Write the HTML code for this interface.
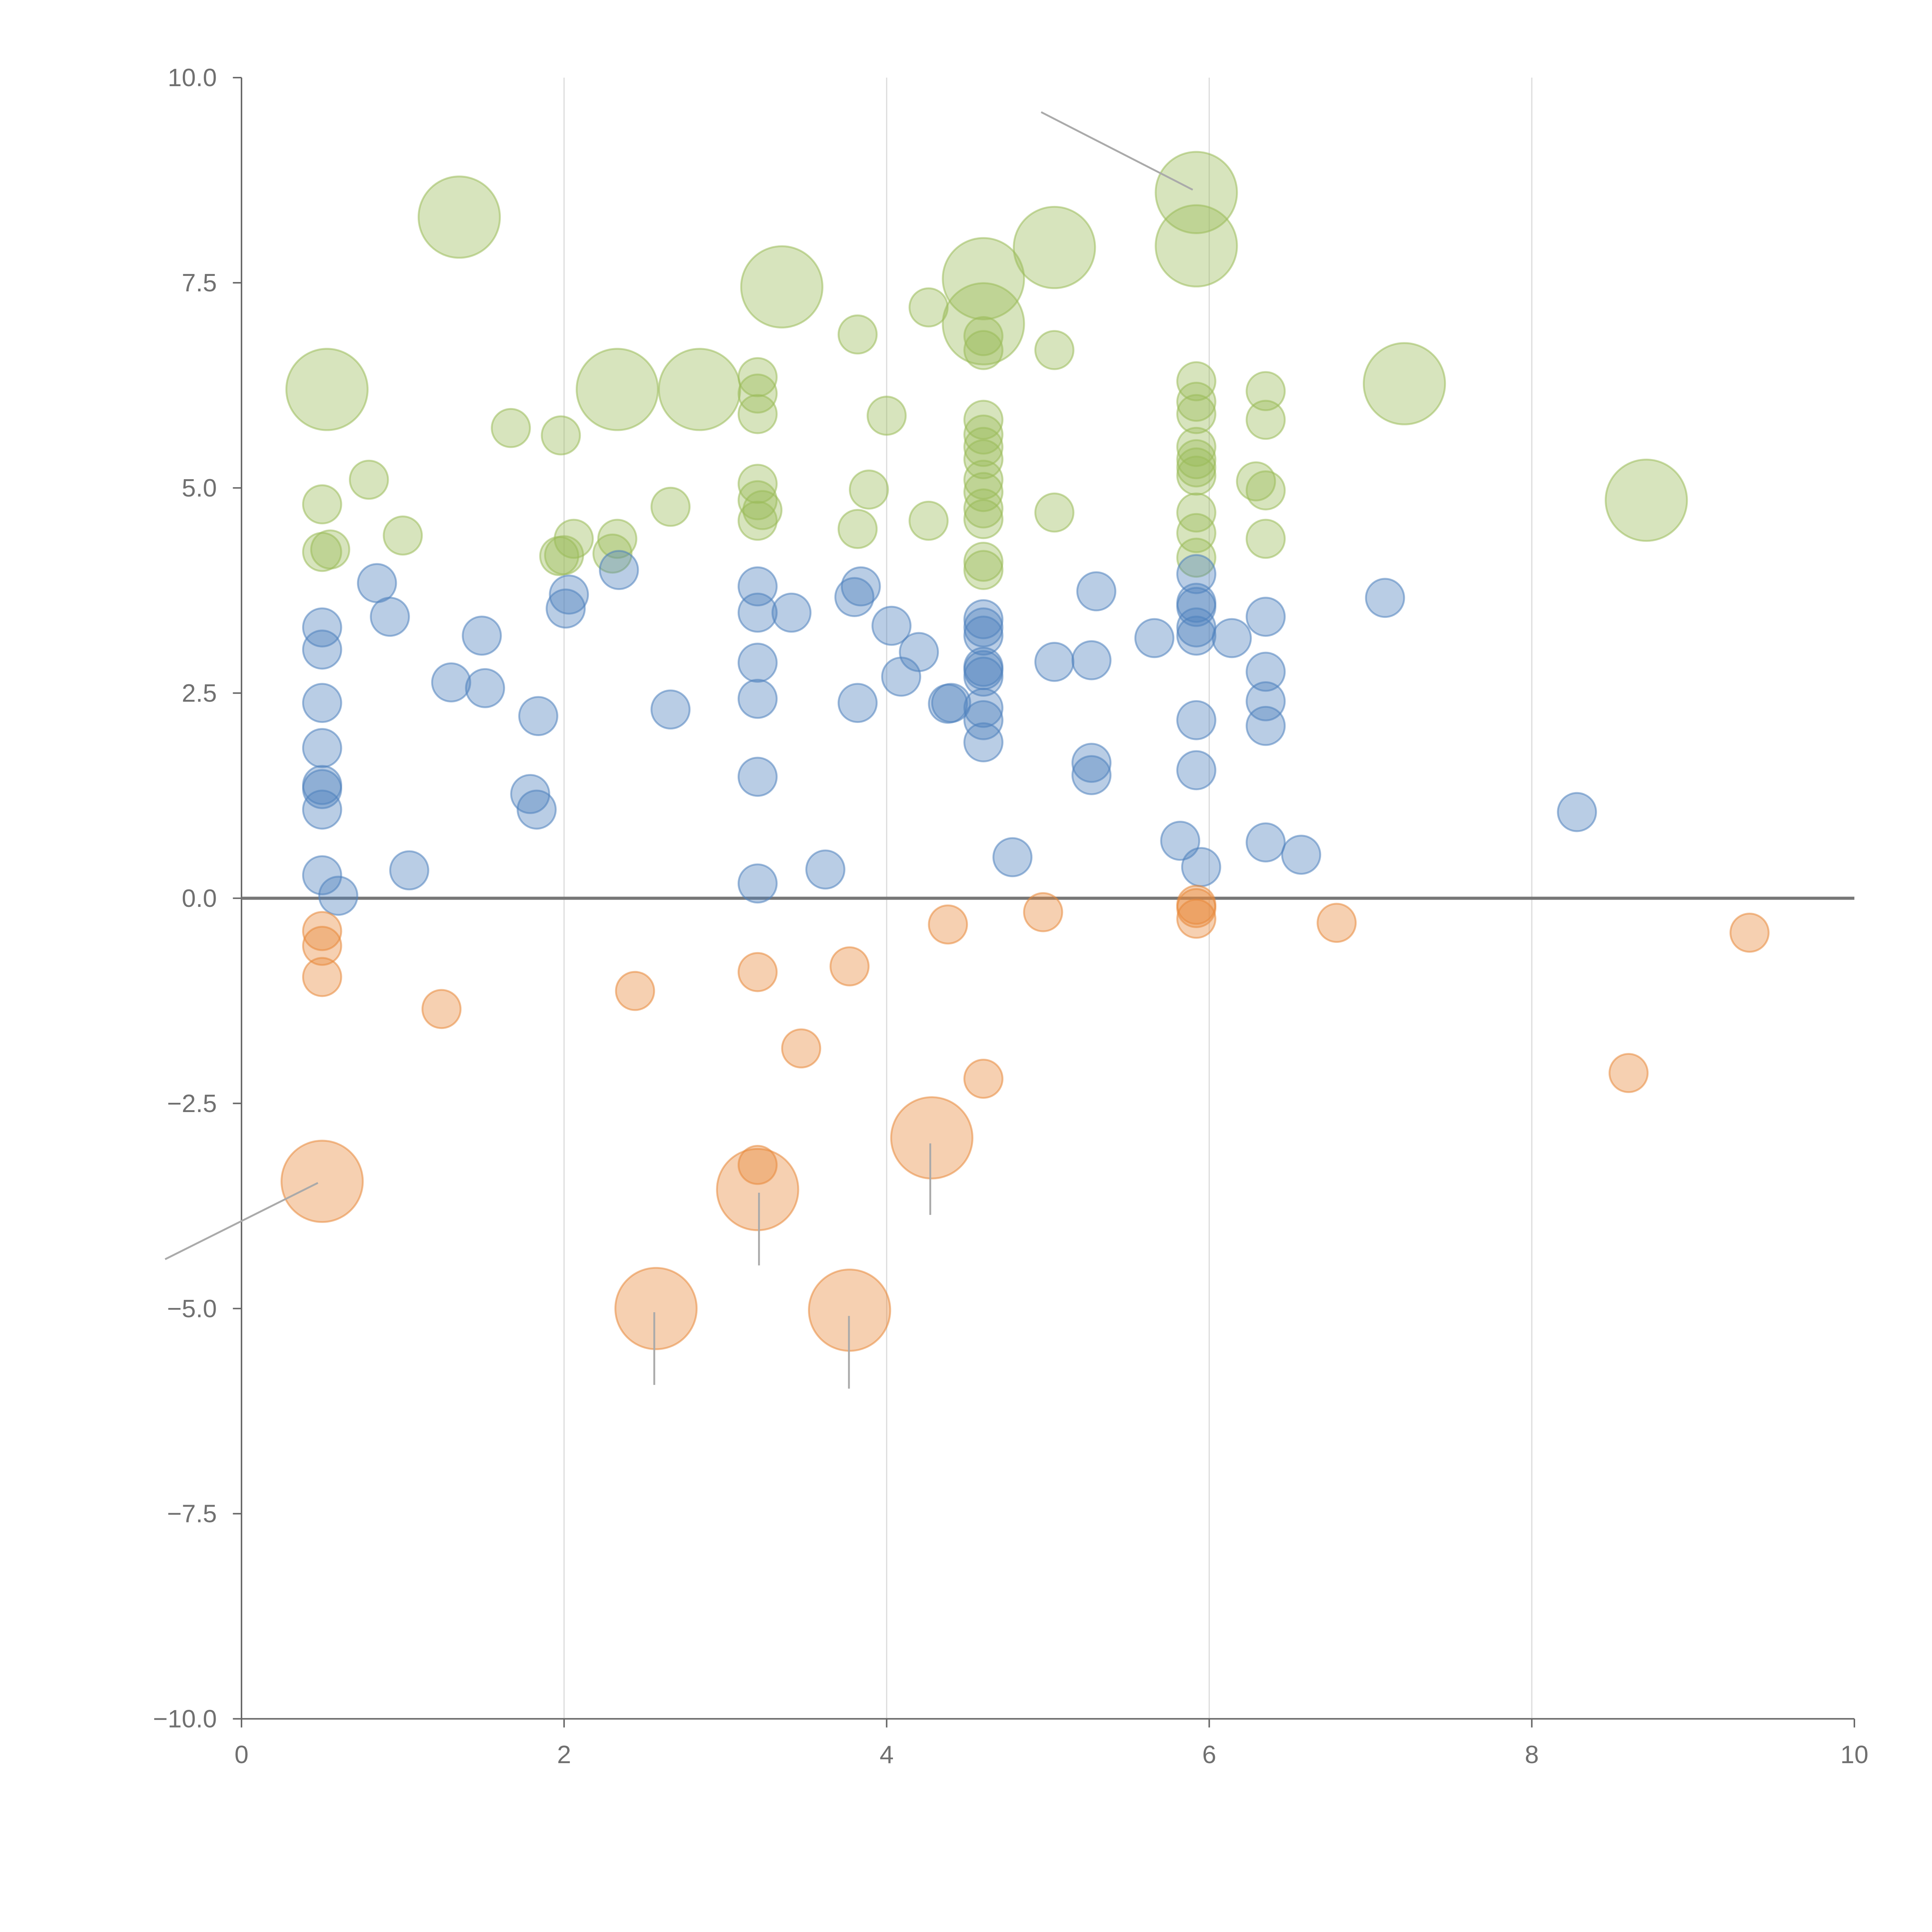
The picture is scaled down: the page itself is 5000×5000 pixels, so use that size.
<!DOCTYPE html>
<html><head><meta charset="utf-8"><style>
html,body{margin:0;padding:0;background:#fff;}
svg{display:block;}
text{font-family:"Liberation Sans",sans-serif;fill:#707070;font-size:20.5px;}
</style></head><body>
<svg id="chart" width="5000" height="5000" viewBox="0 0 1568 1568" xmlns="http://www.w3.org/2000/svg">
<g id="grid"></g>
<g id="axes"></g>
<g id="marks"></g>
<g id="ann"></g>
</svg>
<script>
const xTicks=[0,2,4,6,8,10];
const xTickLabels=["0","2","4","6","8","10"];
const yTicks=[10,7.5,5,2.5,0,-2.5,-5,-7.5,-10];
const yTickLabels=["10.0","7.5","5.0","2.5","0.0","\u22122.5","\u22125.0","\u22127.5","\u221210.0"];
const greenX=[1.35,0.53,2.33,2.84,3.35,4.6,4.6,5.04,5.92,5.92,7.21,8.71,4.26,3.82,4.6,4.6,5.04,3.2,3.2,3.2,4.0,1.67,1.98,4.6,4.6,4.6,4.6,4.6,4.6,4.6,4.6,4.6,4.6,5.92,5.92,5.92,5.92,5.92,5.92,5.92,5.92,5.92,5.92,6.35,6.35,6.29,6.35,6.35,0.5,0.79,1.0,0.5,0.55,1.97,2.0,2.06,2.3,2.33,2.66,3.2,3.2,3.23,3.2,3.89,3.82,4.26,5.04];
const greenY=[8.3,6.2,6.2,6.2,7.45,7.55,7.0,7.93,8.6,7.95,6.27,4.85,7.2,6.87,6.85,6.68,6.68,6.35,6.15,5.9,5.88,5.73,5.64,5.83,5.65,5.5,5.35,5.1,4.95,4.75,4.62,4.1,4.0,6.3,6.05,5.9,5.5,5.35,5.25,5.15,4.7,4.45,4.15,6.18,5.83,5.08,4.97,4.38,4.8,5.1,4.42,4.22,4.25,4.17,4.18,4.38,4.2,4.38,4.77,5.05,4.85,4.73,4.6,4.98,4.5,4.6,4.7];
const greenSize=[2,2,2,2,2,2,2,2,2,2,2,2,1,1,1,1,1,1,1,1,1,1,1,1,1,1,1,1,1,1,1,1,1,1,1,1,1,1,1,1,1,1,1,1,1,1,1,1,1,1,1,1,1,1,1,1,1,1,1,1,1,1,1,1,1,1,1];
const blueX=[0.5,0.5,0.5,0.5,0.5,0.5,0.5,0.5,0.6,0.84,0.92,1.04,1.3,1.49,1.51,1.84,1.79,1.83,2.03,2.01,2.34,2.66,3.2,3.2,3.41,3.2,3.2,3.2,3.2,3.62,3.8,3.84,3.82,4.03,4.2,4.09,4.38,4.4,4.6,4.6,4.6,4.6,4.6,4.6,4.6,4.6,4.6,4.78,5.04,5.27,5.3,5.27,5.27,5.66,5.82,5.92,5.92,5.92,5.92,5.92,6.14,5.92,5.92,5.95,6.35,6.35,6.35,6.35,6.35,6.57,7.09,8.28];
const blueY=[3.3,3.03,2.38,1.83,1.38,1.33,1.08,0.28,0.03,3.84,3.43,0.34,2.63,3.2,2.56,2.22,1.27,1.08,3.7,3.53,4.0,2.3,3.8,3.48,3.48,2.87,2.43,1.48,0.18,0.35,3.67,3.8,2.38,3.32,3.0,2.7,2.37,2.38,3.4,3.3,3.2,2.82,2.78,2.7,2.32,2.17,1.9,0.5,2.88,2.9,3.74,1.65,1.5,3.17,0.7,3.95,3.6,3.55,3.3,3.2,3.17,2.17,1.56,0.38,3.43,2.76,2.4,2.1,0.68,0.53,3.66,1.05];
const orangeX=[0.5,0.5,0.5,1.24,2.44,3.2,3.47,3.77,4.38,4.97,5.92,5.92,5.92,6.79,4.6,8.6,9.35,3.2,0.5,3.2,4.28,2.57,3.77];
const orangeY=[-0.4,-0.58,-0.96,-1.35,-1.13,-0.9,-1.83,-0.83,-0.32,-0.17,-0.08,-0.12,-0.25,-0.3,-2.2,-2.13,-0.42,-3.25,-3.45,-3.55,-2.92,-5.0,-5.02];
const orangeSize=[1,1,1,1,1,1,1,1,1,1,1,1,1,1,1,1,1,1,2,2,2,2,2];

const X=v=>196+(v-0)*(1505-196)/10;
const Y=v=>729-v*(729-63)/10;
const R=s=>s===2?33:15.5;
const NS="http://www.w3.org/2000/svg";
function mk(tag,parent,attrs){const e=document.createElementNS(NS,tag);for(const k in attrs)e.setAttribute(k,attrs[k]);parent.appendChild(e);return e;}
const grid=document.getElementById('grid'),axes=document.getElementById('axes'),marks=document.getElementById('marks'),ann=document.getElementById('ann');

xTicks.forEach((t,i)=>{
  if(t>0&&t<10){const g=mk('line',grid,{x1:X(t),x2:X(t),y1:Y(10),y2:Y(-10),stroke:'#ddd','stroke-width':1});
  
  }
  const tk=mk('line',axes,{x1:X(t),x2:X(t),y1:Y(-10),y2:Y(-10)+7,stroke:'#666','stroke-width':1.2});
  
  
  const tx=mk('text',axes,{x:X(t),y:Y(-10)+36,'text-anchor':'middle'});tx.textContent=xTickLabels[i];
  
  
});
yTicks.forEach((t,i)=>{
  const tk=mk('line',axes,{x1:X(0)-7,x2:X(0),y1:Y(t),y2:Y(t),stroke:'#666','stroke-width':1.2});
  
  
  const tx=mk('text',axes,{x:X(0)-20,y:Y(t)+7,'text-anchor':'end'});tx.textContent=yTickLabels[i];
  
  
});
const ya=mk('line',axes,{x1:X(0),x2:X(0),y1:Y(10),y2:Y(-10),stroke:'#666','stroke-width':1.2});


const xa=mk('line',axes,{x1:X(0),x2:X(10),y1:Y(-10),y2:Y(-10),stroke:'#666','stroke-width':1.2});


const zl=mk('line',axes,{x1:X(0),x2:X(10),y1:Y(0),y2:Y(0),stroke:'#777','stroke-width':2.5});



function series(xs,ys,sz,fill,name){
  xs.forEach((x,i)=>{
    const c=mk('circle',marks,{cx:X(x),cy:Y(ys[i]),r:R(sz?sz[i]:1),fill:fill,'fill-opacity':0.4,stroke:fill,'stroke-opacity':0.55,'stroke-width':1.5});
    
    
  });
}
series(greenX,greenY,greenSize,'#9bbb59','green-bubble');
series(blueX,blueY,null,'#4f81bd','blue-bubble');
series(orangeX,orangeY,orangeSize,'#e8893b','orange-bubble');

const annLines=[[845,91,968,154],[134,1022,258,960],[616,968,616,1027],[755,928,755,986],[531,1065,531,1124],[689,1068,689,1127]];
annLines.forEach(l=>{
  const a=mk('line',ann,{x1:l[0],y1:l[1],x2:l[2],y2:l[3],stroke:'#aaa','stroke-width':1.5});
  
  
});
</script>
</body></html>
